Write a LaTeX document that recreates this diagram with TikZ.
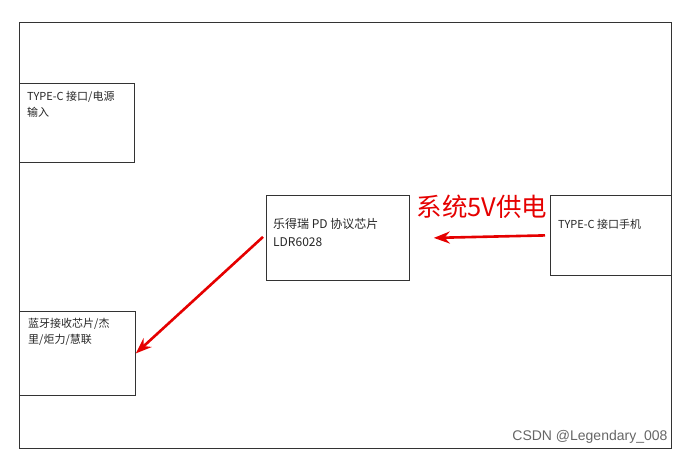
\documentclass[tikz,border=0pt]{standalone}
\usepackage{fontspec}
\newfontfamily\cjk{Noto Sans CJK SC}
\setsansfont{Liberation Sans}
\usetikzlibrary{positioning,arrows.meta}
\tikzset{
  block/.style={draw=black!80, line width=0.8pt, anchor=north west, inner sep=0pt},
  blocktext/.style={anchor=north west, align=left, inner sep=0pt, font=\cjk\fontsize{11}{16}\selectfont, text=black!85},
  redarrow/.style={draw=red!90!black, line width=2.6pt, -{Stealth[length=16pt,width=12pt]}}
}
\begin{document}
\begin{tikzpicture}[x=1pt,y=-1pt]
\useasboundingbox (0,0) rectangle (687,457);
% Draw frame
\draw[black!80, line width=0.8pt] (19,22) rectangle (671,448);

% Draw boxes
\node[block, minimum width=115pt, minimum height=79pt] (src) at (19,83) {};
\node[block, minimum width=143pt, minimum height=85pt] (pd) at (266,195) {};
\node[block, minimum width=121pt, minimum height=80pt] (phone) at (550,195) {};
\node[block, minimum width=116pt, minimum height=84pt] (bt) at (19,311) {};

% Box labels
\node[blocktext] (srctext) at (27,91) {TYPE-C 接口/电源\\输入};
\node[blocktext, font=\cjk\fontsize{12}{18}\selectfont] (pdtext) at (273,218) {乐得瑞 PD 协议芯片\\LDR6028};
\node[blocktext] (phonetext) at (558,219) {TYPE-C 接口手机};
\node[blocktext] (bttext) at (28,318) {蓝牙接收芯片/杰\\里/炬力/慧联};

% Red arrows
\draw[redarrow] ([xshift=-5pt]phone.west) -- ([xshift=24pt]pd.east);
\draw[redarrow] ([xshift=-3pt, yshift=1pt]pd.west) -- (bt.east);
\node[text=red!90!black, font=\cjk\fontsize{25.5}{25.5}\selectfont] (supply) at (482,207) {系统5V供电};

% Watermark
\node[anchor=east, text=black!60, font=\sffamily\fontsize{14}{14}\selectfont] (mark) at (671,437) {CSDN @Legendary\_008};
\end{tikzpicture}
\end{document}
